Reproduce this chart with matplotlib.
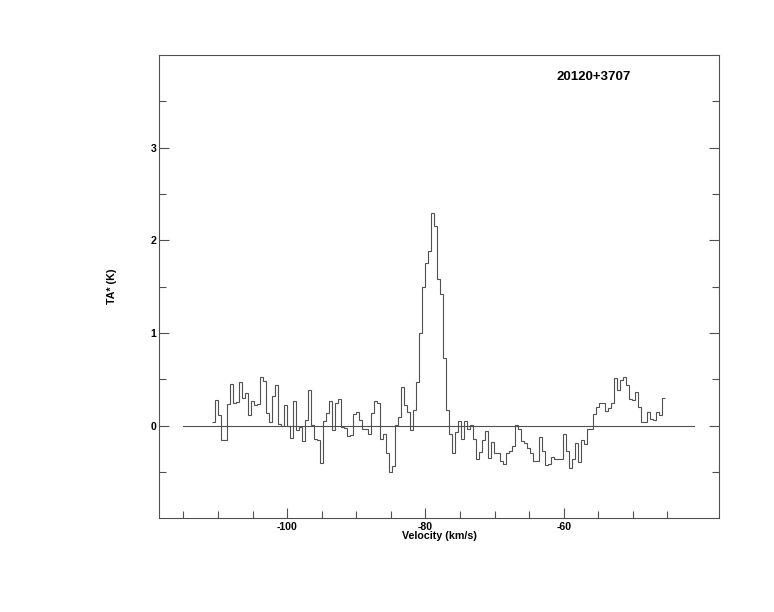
import matplotlib
matplotlib.use('Agg')
import matplotlib.pyplot as plt
import numpy as np

# source name and spectrum (antenna temperature per channel, K)
source = '20120+3707'
v_first = -110.85   # left edge of first channel (km/s)
dv = 0.434          # channel width (km/s)
ta = [0.04, 0.28, 0.12, -0.15, -0.16, 0.23, 0.45, 0.24, 0.26, 0.47,
      0.30, 0.35, 0.11, 0.27, 0.22, 0.23, 0.52, 0.48, 0.14, 0.04,
      0.32, 0.44, 0.02, 0.00, 0.22, 0.00, -0.13, 0.27, -0.05, -0.02,
      -0.17, 0.06, 0.38, 0.01, -0.14, -0.15, -0.40, 0.05, 0.14, 0.27,
      -0.05, 0.24, 0.29, -0.01, -0.03, -0.11, -0.10, 0.13, 0.15, 0.06,
      -0.04, -0.04, -0.09, 0.14, 0.27, 0.24, -0.14, -0.09, -0.30, -0.50,
      -0.44, 0.01, 0.09, 0.42, 0.22, 0.15, -0.05, 0.17, 0.47, 1.00,
      1.50, 1.76, 1.89, 2.30, 2.16, 1.58, 1.42, 0.73, 0.17, -0.09,
      -0.30, -0.07, 0.05, -0.14, 0.05, -0.04, 0.01, -0.14, -0.36, -0.28,
      -0.15, -0.06, -0.35, -0.18, -0.29, -0.30, -0.38, -0.41, -0.29, -0.27,
      -0.22, 0.01, -0.04, -0.17, -0.19, -0.24, -0.30, -0.38, -0.38, -0.12,
      -0.27, -0.42, -0.41, -0.34, -0.36, -0.36, -0.36, -0.09, -0.27, -0.46,
      -0.36, -0.19, -0.39, -0.15, -0.20, -0.04, -0.04, 0.13, 0.20, 0.24,
      0.24, 0.16, 0.19, 0.24, 0.51, 0.39, 0.49, 0.52, 0.44, 0.29,
      0.28, 0.36, 0.20, 0.04, 0.04, 0.15, 0.07, 0.06, 0.15, 0.12,
      0.30]
base_range = [-115.1, -41.1]

edges = v_first + dv*np.arange(len(ta) + 1)

plt.rcParams['font.family'] = ['Liberation Sans', 'DejaVu Sans']
plt.rcParams['font.weight'] = 'bold'
plt.rcParams['axes.unicode_minus'] = False
gray = '#505050'

fig = plt.figure(figsize=(7.74, 6.12), dpi=100)
ax = fig.add_axes([0.2058, 0.1531, 0.7235, 0.757])

ax.stairs(ta, edges, baseline=None, color=gray, lw=0.8)
ax.plot(base_range, [0, 0], color=gray, lw=0.8)

ax.set_xlim(-118.5, -37.5)
ax.set_ylim(-1.0, 4.0)

ax.set_xticks([-100, -80, -60])
ax.set_xticks(np.arange(-115, -44, 5), minor=True)
ax.set_yticks([0, 1, 2, 3])
ax.set_yticks([-0.5, 0.5, 1.5, 2.5, 3.5], minor=True)

ax.tick_params(which='both', direction='in', top=False, right=True,
               color=gray, labelsize=7.6)
ax.tick_params(which='major', length=7.2, width=0.8)
ax.tick_params(which='minor', length=4.8, width=0.8)
ax.tick_params(axis='x', pad=3)
ax.tick_params(axis='y', pad=2)
for lab in ax.get_xticklabels() + ax.get_yticklabels():
    lab.set_fontweight('bold')

for s in ax.spines.values():
    s.set_color(gray)
    s.set_linewidth(0.8)

ax.set_xlabel('Velocity (km/s)', fontsize=7.7, fontweight='bold')
ax.xaxis.set_label_coords(0.5, -0.028)
ax.xaxis.label.set_va('top')
ax.set_ylabel('TA* (K)', fontsize=7.7, fontweight='bold')
ax.yaxis.set_label_coords(-0.0755, 0.5)

ax.text(0.71, 0.9655, source, transform=ax.transAxes, ha='left', va='top',
        fontsize=9.5, fontweight='bold')

fig.savefig('out.png', dpi=100)
